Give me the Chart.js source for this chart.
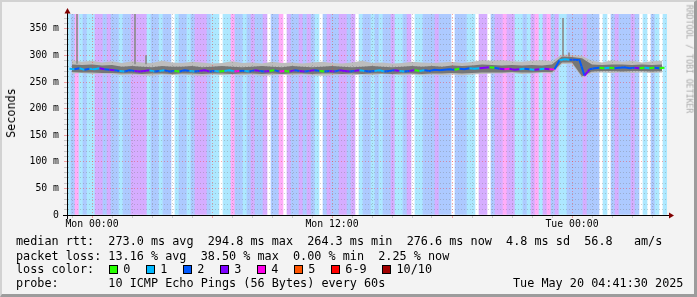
<!DOCTYPE html>
<html>
<head>
<meta charset="utf-8">
<script src="https://cdn.jsdelivr.net/npm/chart.js@4/dist/chart.umd.min.js"></script>
<style>
  html, body { margin: 0; padding: 0; background: #f3f3f3; }
  #wrap { position: relative; width: 697px; height: 297px; overflow: hidden; background: #f3f3f3; }
  #frame { position: absolute; left: 0; top: 0; width: 697px; height: 297px; box-sizing: border-box;
    border-top: 2px solid #d2d2d2; border-left: 2px solid #d2d2d2;
    border-right: 3px solid #9c9c9c; border-bottom: 3px solid #9c9c9c; pointer-events: none; }
  .txt { position: absolute; font-family: "DejaVu Sans Mono", monospace; font-size: 11.8px;
    line-height: 14px; white-space: pre; color: #000; }
  .box { position: absolute; width: 7px; height: 7px; border: 1px solid #000; }
  #ytitle { left: 10.5px; top: 113px; transform: translate(-50%, -50%) rotate(-90deg); }
  #mark { left: 688.5px; top: 59px; transform: translate(-50%, -50%) rotate(90deg);
    font-size: 8.2px; line-height: 9px; color: #a8a8a8; }
</style>
</head>
<body>
<div id="wrap">
  <canvas id="chart" width="697" height="297"></canvas>
  <div class="txt" id="ytitle">Seconds</div>
  <div class="txt" id="mark">RRDTOOL / TOBI OETIKER</div>
  <div class="txt" style="left:16px;top:234px">median rtt:  273.0 ms avg  294.8 ms max  264.3 ms min  276.6 ms now  4.8 ms sd  56.8   am/s</div>
  <div class="txt" style="left:16px;top:248.7px">packet loss: 13.16 % avg  38.50 % max  0.00 % min  2.25 % now</div>
  <div class="txt" style="left:16px;top:262px">loss color:</div>
  <div id="lossLegend"></div>
  <div class="txt" style="left:16px;top:276.3px">probe:       10 ICMP Echo Pings (56 Bytes) every 60s</div>
  <div class="txt" style="left:513px;top:276.3px">Tue May 20 04:41:30 2025</div>
  <div id="frame"></div>
</div>
<script>
        // time in minutes relative to Mon 00:00
        const timeStart = -75;
        const timeEnd = 1725;
        const yMax = 378;

        const xLabelMinutes = [0, 720, 1440];
        const xLabels = ['Mon 00:00', 'Mon 12:00', 'Tue 00:00'];
        const yLabelValues = [0, 50, 100, 150, 200, 250, 300, 350];
        const yLabels = ['0', '50 m', '100 m', '150 m', '200 m', '250 m', '300 m', '350 m'];

        const lossLabels = ['0', '1', '2', '3', '4', '5', '6-9', '10/10'];
        const lossColors = ['#26ff00', '#00b8ff', '#0059ff', '#7e00ff', '#ff00ea', '#ff5500', '#ff0000', '#a10000'];

        // packet loss level, one value per 12 minutes
        const stripeMinutes = 12;
        const lossLevels = [
            1,2,4,1,2,1,1,3,3,2,  3,2,2,1,2,2,3,3,3,3,
            1,2,2,1,2,2,0,1,2,2,  1,2,3,3,3,2,1,1,0,1,
            1,4,2,2,1,2,3,2,2,3,  0,2,2,4,0,3,2,2,3,2,
            3,2,1,0,2,3,2,2,3,3,  2,3,0,1,2,2,1,2,1,2,
            2,3,1,1,2,3,0,1,1,2,  2,2,3,2,2,2,0,2,2,2,
            1,1,0,3,3,0,2,3,3,4,  3,3,1,1,2,1,3,4,1,3,
            4,2,3,1,1,2,2,2,2,3,  2,2,2,0,1,0,2,3,2,2,
            2,3,2,0,1,0,2,1,0,1
        ];

        // median rtt (ms), one value per 15 minutes
        const medianMinutes = 15;
        const medianRtt = [
            275,274,276,273,275,274,276,274,273,
            272,271,270,272,271,270,271,272,270,271, 272,270,271,270,272,271,270,271,272,270, 271,270,271,272,270,271,
            271,270,272,271,270,271,272,270,271,270, 272,271,270,271,272,271,270,271,270,272,
            271,270,271,272,271,270,271,272,270,271, 272,271,270,271,272,271,272,271,273,272,
            273,274,273,275,274,276,275,276,277,278,
            277,275,274,275,273,274,275,274,273,274,275,274,274,
            291,293,292,292,291,
            262,
            274,276,277,276,277,276,277,278,276,277,276,277,276,277,276,277
        ];

        // smoke (ms), one value per 30 minutes
        const smokeMinutes = 30;
        const smokeLow = [
            266,267,265,266,265,
            263,264,263,262,264,263,264,263,262,264, 263,264,263,264,262,263,264,263,264,263,
            262,263,264,263,264,263,265,264,263,264, 263,264,263,264,263,264,265,266,
            266,267,265,266,267,266,
            284,284, 258,
            267,268,267,268,267,268,267,268
        ];
        const smokeHigh = [
            291,288,290,287,289,
            286,289,287,286,290,287,286,288,287,285, 286,289,286,287,285,288,286,287,285,287,
            288,286,285,287,290,286,287,285,286,288, 287,286,287,288,286,288,291,290,
            291,289,288,290,291,289,
            302,301, 299,
            290,287,291,288,290,287,289,290
        ];
        const coreLow = [
            269,268,268,267,267,
            266,266,265,266,266,265,266,266,265,266, 266,265,266,266,265,266,265,266,266,265,
            266,266,265,266,265,266,266,265,266,266, 265,266,266,267,266,267,268,268,
            268,269,268,268,269,269,
            287,287, 261,
            270,271,271,270,271,271,270,271
        ];
        const coreHigh = [
            283,282,283,281,282,
            279,280,279,278,280,279,279,280,278,279, 280,279,278,279,280,279,278,280,279,278,
            279,280,279,278,279,280,279,278,279,280, 279,280,279,281,280,281,283,282,
            281,282,281,282,281,283,
            298,297, 295,
            283,282,283,283,282,283,282,283
        ];

        // single slow pings
        const spikeTimes = [-45, 129, 162, 1413, 1431];
        const spikeLow = [285, 284, 284, 300, 298];
        const spikeHigh = [378, 378, 300, 370, 305];

        function fade(hex) {
            const n = parseInt(hex.slice(1), 16);
            const mix = c => Math.round(255 - 0.32 * (255 - c));
            return 'rgb(' + mix(n >> 16) + ',' + mix((n >> 8) & 255) + ',' + mix(n & 255) + ')';
        }

        function lossAt(t) {
            let i = Math.floor((t - timeStart) / stripeMinutes);
            i = Math.max(0, Math.min(lossLevels.length - 1, i));
            return lossLevels[i];
        }

        function series(values, step) {
            return values.map((v, i) => ({ x: timeStart + step * i + step / 2, y: v }));
        }

        // legend boxes
        const legend = document.getElementById('lossLegend');
        let left = 108.7;
        lossLabels.forEach((label, i) => {
            legend.innerHTML += `<div class="box" style="left:${left}px;top:265px;background:${lossColors[i]}"></div>` +
                `<div class="txt" style="left:${left + 14.6}px;top:262px">${label}</div>`;
            left += 37 + 7.1 * (label.length - 1);
        });

        const hourTicks = [];
        for (let t = -60; t <= 1680; t += 60) hourTicks.push(t);
        const msTicks = [];
        for (let v = 0; v <= 370; v += 10) msTicks.push(v);

        const red = 'rgba(240,60,60,0.45)';
        const grey = 'rgba(120,120,120,0.35)';

        const plotBg = {
            id: 'plotBg',
            beforeDraw(chart) {
                const { ctx, chartArea: a } = chart;
                ctx.save();
                ctx.fillStyle = '#f3f3f3';
                ctx.fillRect(0, 0, chart.width, chart.height);
                ctx.fillStyle = '#ffffff';
                ctx.fillRect(a.left, a.top, a.right - a.left, a.bottom - a.top);
                ctx.restore();
            }
        };

        const arrows = {
            id: 'arrows',
            afterDraw(chart) {
                const { ctx, chartArea: a } = chart;
                ctx.save();
                ctx.strokeStyle = '#000';
                ctx.lineWidth = 1;
                ctx.beginPath();
                ctx.moveTo(a.left + 0.5, a.bottom + 4);
                ctx.lineTo(a.left + 0.5, a.top - 1);
                ctx.moveTo(a.left - 4, a.bottom + 0.5);
                ctx.lineTo(a.right + 3, a.bottom + 0.5);
                ctx.stroke();
                ctx.fillStyle = '#800000';
                ctx.beginPath();
                ctx.moveTo(a.left + 0.5, a.top - 6);
                ctx.lineTo(a.left - 2.5, a.top - 0.5);
                ctx.lineTo(a.left + 3.5, a.top - 0.5);
                ctx.closePath();
                ctx.fill();
                ctx.beginPath();
                ctx.moveTo(a.right + 7, a.bottom + 0.5);
                ctx.lineTo(a.right + 2, a.bottom - 2.5);
                ctx.lineTo(a.right + 2, a.bottom + 3.5);
                ctx.closePath();
                ctx.fill();
                ctx.restore();
            }
        };

        const tickFont = { family: 'DejaVu Sans Mono', size: 9.8 };

        new Chart(document.getElementById('chart').getContext('2d'), {
            type: 'bar',
            data: {
                datasets: [
                    {
                        type: 'bar',
                        data: series(lossLevels.map(() => yMax), stripeMinutes),
                        backgroundColor: lossLevels.map(l => l === 0 ? 'rgba(0,0,0,0)' : fade(lossColors[l])),
                        barThickness: 4,
                        grouped: false,
                        borderWidth: 0,
                        order: 10
                    },
                    {
                        type: 'line',
                        data: series(smokeLow, smokeMinutes),
                        borderWidth: 0, pointRadius: 0, fill: false, order: 9
                    },
                    {
                        type: 'line',
                        data: series(smokeHigh, smokeMinutes),
                        borderWidth: 0, pointRadius: 0, fill: '-1',
                        backgroundColor: '#bdbdbd', order: 8
                    },
                    {
                        type: 'line',
                        data: series(coreLow, smokeMinutes),
                        borderWidth: 0, pointRadius: 0, fill: false, order: 7
                    },
                    {
                        type: 'line',
                        data: series(coreHigh, smokeMinutes),
                        borderWidth: 0, pointRadius: 0, fill: '-1',
                        backgroundColor: '#767676', order: 6
                    },
                    {
                        type: 'bar',
                        data: spikeTimes.map((t, i) => ({ x: t, y: [spikeLow[i], spikeHigh[i]] })),
                        backgroundColor: '#8c8c8c',
                        barThickness: 1,
                        grouped: false,
                        borderWidth: 0,
                        order: 5
                    },
                    {
                        type: 'line',
                        data: series(medianRtt, medianMinutes),
                        borderWidth: 2,
                        pointRadius: 0,
                        fill: false,
                        tension: 0,
                        segment: {
                            borderColor: c => lossColors[lossAt(c.p0.parsed.x)]
                        },
                        order: 1
                    }
                ]
            },
            options: {
                responsive: false,
                animation: false,
                layout: { padding: { top: 14, right: 30, left: 0, bottom: 0 } },
                plugins: {
                    legend: { display: false },
                    tooltip: { enabled: false }
                },
                scales: {
                    x: {
                        type: 'linear',
                        min: timeStart,
                        max: timeEnd,
                        offset: false,
                        afterBuildTicks: scale => { scale.ticks = hourTicks.map(v => ({ value: v })); },
                        afterFit: scale => { scale.height = 82; },
                        grid: {
                            z: 1,
                            offset: false,
                            color: c => c.tick && c.tick.value % 360 === 0 ? red : grey,
                            tickLength: 3,
                            tickBorderDash: []
                        },
                        border: { color: '#000', width: 1, dash: [1, 2], z: 2 },
                        ticks: {
                            autoSkip: false,
                            maxRotation: 0,
                            padding: 1,
                            color: '#000',
                            font: tickFont,
                            callback: v => {
                                const k = xLabelMinutes.indexOf(v);
                                return k >= 0 ? xLabels[k] : '';
                            }
                        }
                    },
                    y: {
                        min: 0,
                        max: yMax,
                        afterBuildTicks: scale => { scale.ticks = msTicks.map(v => ({ value: v })); },
                        afterFit: scale => { scale.width = 67; },
                        grid: {
                            z: 1,
                            color: c => c.tick && c.tick.value % 50 === 0 ? red : grey,
                            tickLength: 3,
                            tickBorderDash: []
                        },
                        border: { color: '#000', width: 1, dash: [1, 2], z: 2 },
                        ticks: {
                            autoSkip: false,
                            padding: 5,
                            color: '#000',
                            font: tickFont,
                            callback: v => {
                                const k = yLabelValues.indexOf(v);
                                return k >= 0 ? yLabels[k] : '';
                            }
                        }
                    }
                }
            },
            plugins: [plotBg, arrows]
        });
</script>
</body>
</html>
